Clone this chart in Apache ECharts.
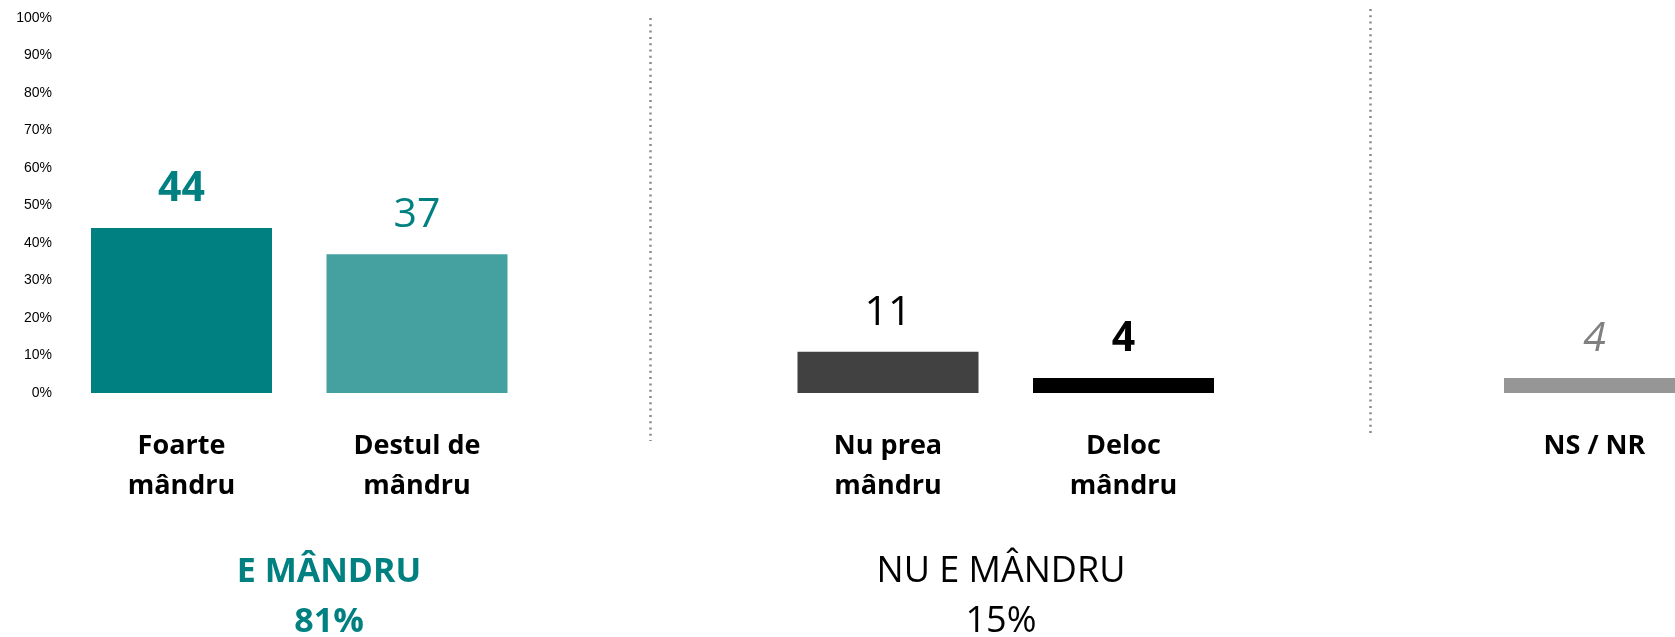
<!DOCTYPE html>
<html>
<head>
<meta charset="utf-8">
<script src="https://cdn.jsdelivr.net/npm/echarts@6/dist/echarts.min.js"></script>
<style>
html,body{margin:0;padding:0;background:#fff;}
#chart{width:1675px;height:637px;}
</style>
</head>
<body>
<div id="chart"></div>
<script>
// ---- data ----
var categories = ['Foarte\nmândru', 'Destul de\nmândru', '', 'Nu prea\nmândru', 'Deloc\nmândru', '', 'NS / NR'];
var values = [44, 37, null, 11, 4, null, 4];
var yTicks = [0, 10, 20, 30, 40, 50, 60, 70, 80, 90, 100];
var groupTitles = ['E MÂNDRU', 'NU E MÂNDRU'];
var groupTotals = ['81%', '15%'];

// ---- styles (kept separate from data) ----
var barColors = ['#008080', '#44A19F', null, '#414141', '#000000', null, '#969696'];
var labelStyles = [
  {color: '#008080', fontWeight: 'bold', fontStyle: 'normal'},
  {color: '#008080', fontWeight: 'normal', fontStyle: 'normal'},
  null,
  {color: '#000000', fontWeight: 'normal', fontStyle: 'normal'},
  {color: '#000000', fontWeight: 'bold', fontStyle: 'normal'},
  null,
  {color: '#808080', fontWeight: 'normal', fontStyle: 'italic'}
];

var seriesData = values.map(function (v, i) {
  if (v === null) return '-';
  var ls = labelStyles[i];
  return {
    value: v,
    itemStyle: {color: barColors[i]},
    label: {color: ls.color, fontWeight: ls.fontWeight, fontStyle: ls.fontStyle}
  };
});

var chart = echarts.init(document.getElementById('chart'));
var FONT = '"Open Sans", "Noto Sans", sans-serif';

function sepLine(x, y1, y2) {
  return {
    type: 'line',
    shape: {x1: x, y1: y1, x2: x, y2: y2},
    style: {stroke: '#8a8a8a', lineWidth: 2.5, lineDash: [2, 4.3], lineCap: 'butt'},
    silent: true
  };
}
function txt(x, y, text, color, weight, size) {
  return {
    type: 'text',
    x: x, y: y,
    style: {
      text: text, fill: color, font: (weight === 'bold' ? 'bold ' : '') + size + 'px ' + FONT,
      textAlign: 'center', textVerticalAlign: 'middle'
    },
    silent: true
  };
}

chart.setOption({
  animation: false,
  backgroundColor: '#ffffff',
  grid: {left: 181.5, top: 18, right: 80.5, height: 375, containLabel: false},
  xAxis: {
    type: 'category',
    data: categories,
    boundaryGap: false,
    axisLine: {show: false},
    axisTick: {show: false},
    splitLine: {show: false},
    axisLabel: {
      interval: 0,
      margin: 33,
      color: '#000',
      fontFamily: FONT,
      fontWeight: 'bold',
      fontSize: 27,
      lineHeight: 40
    }
  },
  yAxis: {
    type: 'value',
    min: 0, max: 100, interval: 10,
    axisLine: {show: false},
    axisTick: {show: false},
    splitLine: {show: false},
    axisLabel: {
      margin: 129.5,
      color: '#000',
      fontFamily: '"Liberation Sans", Arial, sans-serif',
      fontSize: 14,
      formatter: function (v) { return yTicks.indexOf(v) >= 0 ? v + '%' : ''; }
    }
  },
  series: [{
    type: 'bar',
    data: seriesData,
    barWidth: 181,
    clip: false,
    label: {
      show: true,
      position: 'top',
      distance: 18,
      fontFamily: FONT,
      fontSize: 41
    }
  }],
  graphic: [
    sepLine(650.5, 18, 441),
    sepLine(1370.5, 9, 434),
    txt(329, 572, groupTitles[0], '#008080', 'bold', 34),
    txt(329, 622, groupTotals[0], '#008080', 'bold', 34),
    txt(1001, 572, groupTitles[1], '#000000', 'normal', 36),
    txt(1001, 622, groupTotals[1], '#000000', 'normal', 36)
  ]
});
</script>
</body>
</html>
